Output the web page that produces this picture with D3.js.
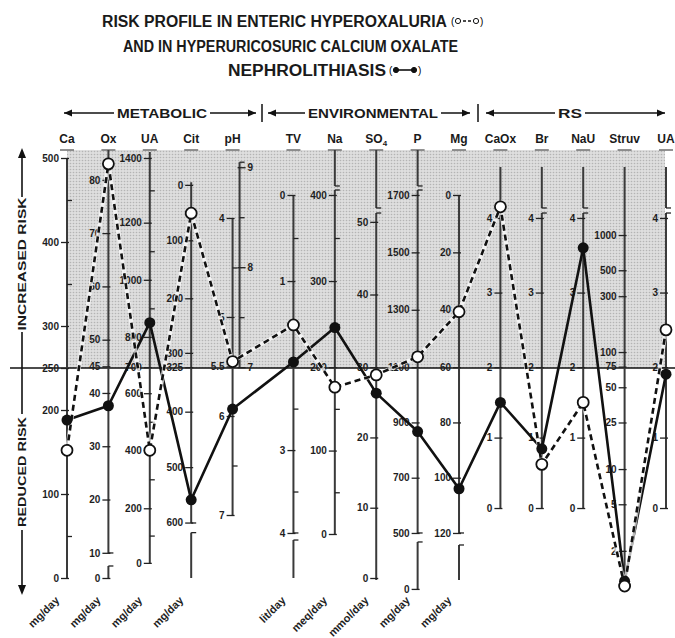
<!DOCTYPE html>
<html><head><meta charset="utf-8">
<script src="https://cdn.jsdelivr.net/npm/d3@7"></script>
<style>
body{margin:0;background:#fff;}
svg{display:block;font-family:"Liberation Sans",Arial,sans-serif;}
</style></head><body>
<svg id="chart" width="675" height="638"></svg>
<script>
// ================= DATA =================
const titleLines = ["RISK PROFILE IN ENTERIC HYPEROXALURIA", "AND IN HYPERURICOSURIC CALCIUM OXALATE", "NEPHROLITHIASIS"];
const sections = ["METABOLIC", "ENVIRONMENTAL", "RS"];
const columns = ["Ca", "Ox", "UA", "Cit", "pH", "TV", "Na", "SO4", "P", "Mg", "CaOx", "Br", "NaU", "Struv", "UA"];
const units = ["mg/day", "mg/day", "mg/day", "mg/day", "", "lit/day", "meq/day", "mmol/day", "mg/day", "mg/day", "", "", "", "", ""];
const riskLabels = ["INCREASED RISK", "REDUCED RISK"];

// series values (each in the unit of its own column axis)
const entericHyperoxaluria = [152, 83, 400, 51, 5.45, 1.51, 176, 28.9, 1136, 40.7, 4.15, 0.62, 1.5, 1.0, 2.5];
const hyperuricosuricCaOx  = [188, 37.6, 850, 559, 5.93, 1.94, 246, 26.3, 867, 104, 1.5, 0.84, 3.6, 1.1, 1.9];

// tick labels per axis
const caTicks   = [0, 100, 200, 250, 300, 400, 500];
const oxTicks   = [0, 10, 20, 30, 40, 45, 50, 60, 70, 80];
const uaTicks   = [0, 200, 400, 600, 700, 800, 1000, 1200, 1400];
const citTicks  = [0, 100, 200, 300, 325, 400, 500, 600];
const phLowTicks  = [4, 5, 5.5, 6, 7];
const phHighTicks = [7, 8, 9];
const tvTicks   = [0, 1, 3, 4];
const naTicks   = [0, 100, 200, 300, 400];
const so4Ticks  = [0, 10, 20, 30, 40, 50];
const pTicks    = [0, 500, 700, 900, 1100, 1300, 1500, 1700];
const mgTicks   = [0, 20, 40, 60, 80, 100, 120];
const rsTicks   = [0, 1, 2, 3, 4];
const struvTicks = [2, 5, 10, 25, 50, 75, 100, 300, 500, 1000];

// minor ticks
const caMinor = [50, 150, 350, 450];
const uaMinor = [100, 300, 500, 900, 1100, 1300];
const phLowMinor = [4.5, 6.5];
const phHighMinor = [7.5, 8.5];
const tvMinor = [0.5, 1.5, 2.5, 3.5];
const naMinor = [50, 150, 250, 350];

// nomogram equivalences: axis value -> risk score (0-500 master scale)
const calib = [
  {v: [0, 500], r: [0, 500]},
  {v: [0, 10, 80], r: [0, 30, 474]},
  {v: [0, 200, 400, 600, 700, 800, 1000, 1200, 1400], r: [18, 83, 152, 220, 251, 287, 355, 423, 500]},
  {v: [0, 100, 200, 300, 325, 400, 500, 600], r: [468, 402, 333, 268, 251, 198, 132, 66]},
  {v: [4, 7], r: [428.6, 75]},
  {v: [0, 2, 4], r: [456, 251, 53.6]},
  {v: [0, 200, 400], r: [52.4, 251, 456]},
  {v: [0, 30, 50], r: [0, 251, 424]},
  {v: [0, 500, 1100, 1700], r: [-13, 53.6, 251, 456]},
  {v: [0, 60, 120], r: [456, 251, 53.6]},
  {v: [0, 2, 4], r: [83.3, 251, 428.6]},
  {v: [0, 2, 4], r: [83.3, 251, 428.6]},
  {v: [0, 2, 4], r: [83.3, 251, 428.6]},
  {v: [100, 1000], r: [269, 408.3], log: true},
  {v: [0, 2, 4], r: [83.3, 251, 428.6]}
];
const phHighCalib = {v: [7, 9], r: [251, 489]};

// ================= LAYOUT =================
const svg = d3.select("#chart");
const FONT = "'Liberation Sans', Arial, sans-serif";
const yRisk = d3.scaleLinear().domain([0, 500]).range([578, 158]);
const xIdx = d3.scaleLinear().domain([0, 14.47]).range([67, 666]);
const colX = i => xIdx(i + (i > 4 ? 0.47 : 0));

// axis line segments in risk units (breaks between segments)
const segments = [
  [[500, 0]],
  [[509.5, 29.8], [14.3, 0]],
  [[507, 17.9]],
  [[471, 65.5], [54, 0]],
  [[428.6, 75]],
  [[456, 53.6], [45.2, 0]],
  [[509.5, 466.7], [461.9, 52.4]],
  [[509.5, 440.5], [434.5, -2.4]],
  [[509.5, 466.7], [461.9, 53.6], [42.9, -13.1]],
  [[456, 53.6], [39.3, -2.4]],
  [[489.3, 83.3]],
  [[489.3, 440.5], [434.5, 83.3]],
  [[489.3, 440.5], [434.5, 83.3]],
  [[489.3, 6]],
  [[489.3, 440.5], [434.5, 83.3]]
];
const ticksList = [caTicks, oxTicks, uaTicks, citTicks, phLowTicks, tvTicks, naTicks, so4Ticks, pTicks, mgTicks, rsTicks, rsTicks, rsTicks, struvTicks, rsTicks];
const minorList = [caMinor, null, uaMinor, null, phLowMinor, tvMinor, naMinor, null, null, null, null, null, null, null, null];

function makeScale(c) {
  if (c.log) return d3.scaleLog().domain(c.v).range(c.r.map(yRisk));
  return d3.scaleLinear().domain(c.v).range(c.r.map(yRisk));
}
const scales = calib.map(makeScale);
const phHighScale = makeScale(phHighCalib);

// ---- shading (increased risk zone) ----
const defs = svg.append("defs");
const pat = defs.append("pattern").attr("id", "screen").attr("width", 3).attr("height", 3).attr("patternUnits", "userSpaceOnUse");
pat.append("rect").attr("width", 3).attr("height", 3).attr("fill", "#dedede");
pat.append("circle").attr("cx", 1.5).attr("cy", 1.5).attr("r", 0.8).attr("fill", "#b4b4b4");
svg.append("rect")
  .attr("x", colX(0)).attr("y", yRisk(509.5))
  .attr("width", colX(14) - colX(0) - 1).attr("height", yRisk(250) - yRisk(509.5))
  .attr("fill", "url(#screen)");

// ---- title ----
const titleSpans = [[102, 447], [123, 458], [228, 386]];
const titleBase = [27, 52, 76];
titleLines.forEach((t, i) => {
  svg.append("text").attr("x", titleSpans[i][0]).attr("y", titleBase[i])
    .attr("font-family", FONT).attr("font-size", 16).attr("font-weight", "bold").attr("fill", "#1a1a1a")
    .attr("textLength", titleSpans[i][1] - titleSpans[i][0]).attr("lengthAdjust", "spacingAndGlyphs")
    .text(t);
});
function legendSymbol(x, y, open) {
  const g = svg.append("g").attr("transform", `translate(${x},${y})`);
  g.append("text").attr("x", 0).attr("y", 3.5).attr("font-size", 10).attr("font-family", FONT).text("(");
  g.append("line").attr("x1", 7).attr("x2", 25).attr("y1", 0).attr("y2", 0).attr("stroke", "#111").attr("stroke-width", 1.6)
    .attr("stroke-dasharray", open ? "3,2" : null);
  g.append("circle").attr("cx", 7).attr("cy", 0).attr("r", 2.6).attr("fill", open ? "#fff" : "#111").attr("stroke", "#111").attr("stroke-width", 1);
  g.append("circle").attr("cx", 25).attr("cy", 0).attr("r", 2.6).attr("fill", open ? "#fff" : "#111").attr("stroke", "#111").attr("stroke-width", 1);
  g.append("text").attr("x", 29).attr("y", 3.5).attr("font-size", 10).attr("font-family", FONT).text(")");
}
legendSymbol(451, 21, true);
legendSymbol(389, 70, false);

// ---- section header row ----
const secY = 113;
const hdr = svg.append("g").attr("stroke", "#111").attr("stroke-width", 1.5).attr("fill", "#111");
function arrowHead(x, dir) {
  hdr.append("path").attr("d", `M${x},${secY} l${-dir * 8},-3.5 l0,7 z`).attr("stroke", "none");
}
const secDefs = [
  {text: sections[0], from: 64, to: 256, tx: 162, tl: 90},
  {text: sections[1], from: 268, to: 470, tx: 373, tl: 130},
  {text: sections[2], from: 486, to: 665, tx: 570, tl: 24}
];
secDefs.forEach(s => {
  hdr.append("line").attr("x1", s.from).attr("x2", s.tx - s.tl / 2 - 3).attr("y1", secY).attr("y2", secY);
  hdr.append("line").attr("x1", s.tx + s.tl / 2 + 3).attr("x2", s.to).attr("y1", secY).attr("y2", secY);
  arrowHead(s.from, -1);
  arrowHead(s.to, 1);
  svg.append("text").attr("x", s.tx - s.tl / 2).attr("y", secY + 5).attr("font-family", FONT)
    .attr("font-size", 12).attr("font-weight", "bold").attr("fill", "#1a1a1a")
    .attr("textLength", s.tl).attr("lengthAdjust", "spacingAndGlyphs").text(s.text);
});
[262, 478].forEach(x => hdr.append("line").attr("x1", x).attr("x2", x).attr("y1", secY - 9).attr("y2", secY + 9));

// ---- column headers ----
columns.forEach((c, i) => {
  const x = colX(i);
  const t = svg.append("text").attr("x", x).attr("y", 143).attr("text-anchor", "middle")
    .attr("font-family", FONT).attr("font-size", 12).attr("font-weight", "bold").attr("fill", "#1a1a1a");
  if (c === "SO4") {
    t.append("tspan").text("SO");
    t.append("tspan").attr("font-size", 8).attr("dy", 3).text("4");
  } else t.text(c);
  svg.append("line").attr("x1", x - 7).attr("x2", x + 7).attr("y1", 150).attr("y2", 150)
    .attr("stroke", "#777").attr("stroke-width", 1.6);
});

// ---- threshold line at 250 ----
svg.append("line").attr("x1", 10).attr("x2", 675).attr("y1", yRisk(250)).attr("y2", yRisk(250))
  .attr("stroke", "#111").attr("stroke-width", 1.6);

// ---- master risk arrow ----
const ax0 = 22;
const ma = svg.append("g").attr("stroke", "#111").attr("stroke-width", 1.6);
[[156, 197], [332, 414], [530, 587]].forEach(([a, b]) =>
  ma.append("line").attr("x1", ax0).attr("x2", ax0).attr("y1", a).attr("y2", b));
ma.append("path").attr("d", `M${ax0},148 l-4,10 l8,0 z`).attr("fill", "#111").attr("stroke", "none");
ma.append("path").attr("d", `M${ax0},595 l-4,-10 l8,0 z`).attr("fill", "#111").attr("stroke", "none");
[[riskLabels[0], 264, 133], [riskLabels[1], 472, 110]].forEach(([t, cy, len]) => {
  svg.append("text").attr("transform", `translate(${ax0 + 4},${cy}) rotate(-90)`)
    .attr("x", -len / 2).attr("font-family", FONT).attr("font-size", 11.5).attr("font-weight", "bold").attr("fill", "#1a1a1a")
    .attr("textLength", len).attr("lengthAdjust", "spacingAndGlyphs").text(t);
});

// ---- column axes ----
function styleAxis(g) {
  g.select(".domain").remove();
  g.attr("font-family", FONT).attr("font-size", 10);
  g.selectAll(".tick line").attr("stroke", "#222").attr("stroke-width", 1.3);
  g.selectAll(".tick text").attr("font-weight", "bold").attr("fill", "#1e1e1e").attr("font-size", 10);
}
function drawSegments(g, segs) {
  segs.forEach(([a, b], k) => {
    g.append("line").attr("x1", 0).attr("x2", 0).attr("y1", yRisk(a)).attr("y2", yRisk(b))
      .attr("stroke", "#3a3a3a").attr("stroke-width", 2);
    if (k > 0) g.append("line").attr("x1", 0).attr("x2", 5).attr("y1", yRisk(a)).attr("y2", yRisk(a))
      .attr("stroke", "#222").attr("stroke-width", 1.3);
    if (k < segs.length - 1) g.append("line").attr("x1", 0).attr("x2", 5).attr("y1", yRisk(b)).attr("y2", yRisk(b))
      .attr("stroke", "#222").attr("stroke-width", 1.3);
  });
}
const axisX = i => colX(i);
columns.forEach((c, i) => {
  const g = svg.append("g").attr("transform", `translate(${axisX(i)},0)`);
  drawSegments(g, segments[i]);
  const ag = g.append("g");
  ag.call(d3.axisLeft(scales[i]).tickValues(ticksList[i]).tickSize(6).tickPadding(2).tickFormat(d => String(d)));
  styleAxis(ag);
  ag.selectAll(".tick line").attr("x1", 2);
  if (minorList[i]) {
    const mg = g.append("g");
    mg.call(d3.axisRight(scales[i]).tickValues(minorList[i]).tickSize(5).tickFormat(""));
    styleAxis(mg);
  }
  if (units[i]) {
    svg.append("text").attr("transform", `translate(${axisX(i) - 7},601) rotate(-45)`)
      .attr("text-anchor", "end").attr("font-family", FONT).attr("font-size", 11).attr("font-weight", "bold")
      .attr("fill", "#1e1e1e").text(units[i]);
  }
});
// second pH scale (right-hand, labels on right)
{
  const g = svg.append("g").attr("transform", `translate(${axisX(4) + 7},0)`);
  drawSegments(g, [[495, 251.2]]);
  const ag = g.append("g");
  ag.call(d3.axisRight(phHighScale).tickValues(phHighTicks).tickSize(6).tickPadding(2).tickFormat(d => String(d)));
  styleAxis(ag);
  ag.selectAll(".tick line").attr("x1", -2);
  const mg = g.append("g");
  mg.call(d3.axisRight(phHighScale).tickValues(phHighMinor).tickSize(5).tickFormat(""));
  styleAxis(mg);
  g.append("line").attr("x1", 0).attr("x2", 5).attr("y1", yRisk(495)).attr("y2", yRisk(495)).attr("stroke", "#222").attr("stroke-width", 1.3);
}

// ---- series ----
function pts(vals) {
  return vals.map((v, i) => ({x: axisX(i), y: scales[i](v)}));
}
const line = d3.line().x(d => d.x).y(d => d.y);
const openPts = pts(entericHyperoxaluria);
const fillPts = pts(hyperuricosuricCaOx);
svg.append("path").attr("d", line(fillPts)).attr("fill", "none").attr("stroke", "#111").attr("stroke-width", 2.6).attr("stroke-linejoin", "round");
svg.append("path").attr("d", line(openPts)).attr("fill", "none").attr("stroke", "#fff").attr("stroke-width", 4.2).attr("stroke-opacity", 0.7);
svg.append("path").attr("d", line(openPts)).attr("fill", "none").attr("stroke", "#111").attr("stroke-width", 2.6).attr("stroke-dasharray", "6,4");
svg.selectAll("circle.f").data(fillPts).join("circle").attr("class", "f")
  .attr("cx", d => d.x).attr("cy", d => d.y).attr("r", 5.5).attr("fill", "#111");
svg.selectAll("circle.o").data(openPts).join("circle").attr("class", "o")
  .attr("cx", d => d.x).attr("cy", d => d.y).attr("r", 5.5).attr("fill", "#fff").attr("stroke", "#111").attr("stroke-width", 1.8);
</script>
</body></html>
